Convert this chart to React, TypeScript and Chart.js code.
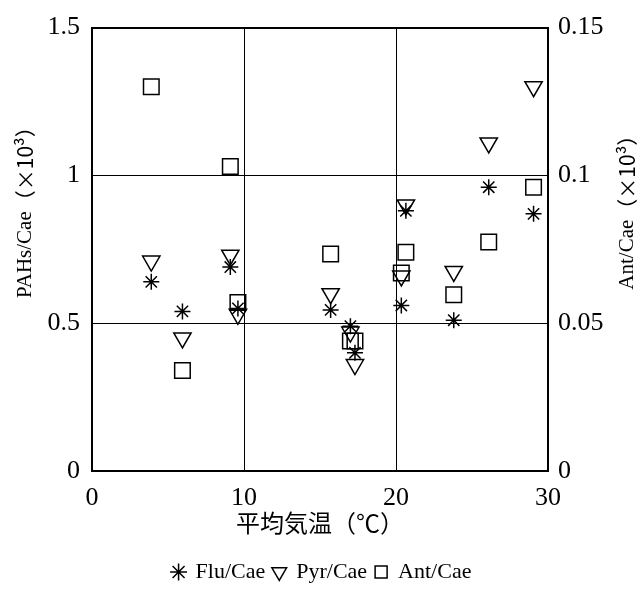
import React, { useEffect, useRef } from 'react';
import { Chart, registerables } from 'chart.js';

Chart.register(...registerables);

// Mean air temperature (°C) for each sampling
const temperature = [3.9, 5.95, 9.1, 9.6, 15.7, 17.0, 17.3, 20.35, 20.65, 23.8, 26.1, 29.05];
// PAHs / Cae ratios (x10^3), left axis
const fluCae = [0.64, 0.54, 0.69, 0.55, 0.545, 0.49, 0.40, 0.56, 0.88, 0.51, 0.96, 0.87];
const pyrCae = [0.71, 0.45, 0.73, 0.53, 0.60, 0.47, 0.36, 0.66, 0.90, 0.675, 1.11, 1.30];
// Ant / Cae ratio (x10^3), right axis
const antCae = [0.130, 0.034, 0.103, 0.057, 0.0734, 0.044, 0.044, 0.067, 0.074, 0.0596, 0.0775, 0.096];

const seriesNames = ['Flu/Cae', 'Pyr/Cae', 'Ant/Cae'];
const xTickLabels = ['0', '10', '20', '30'];
const yLeftTickLabels = ['0', '0.5', '1', '1.5'];
const yRightTickLabels = ['0', '0.05', '0.1', '0.15'];
const xTitle = '平均気温（℃）';
const yLeftTitle = ['PAHs/Cae', '（×10³）'];
const yRightTitle = ['Ant/Cae', '（×10³）'];

const FAMILY = "'Liberation Serif', 'Noto Sans CJK JP', serif";
const SANS = "'Noto Sans CJK JP', 'DejaVu Sans', sans-serif";

const pts = (ys: number[]) => temperature.map((x, i) => ({ x, y: ys[i] }));

const yTitlesPlugin = {
  id: 'yTitles',
  afterDraw(chart: any) {
    const { ctx, chartArea, scales } = chart;
    const cy = chartArea.top + (chartArea.bottom - chartArea.top) * 0.405;
    const f1 = `21px ${FAMILY}`;
    const f2 = `21px ${SANS}`;
    ctx.save();
    ctx.fillStyle = '#000';
    ctx.textAlign = 'left';
    ctx.textBaseline = 'middle';
    const items: [number, string[]][] = [
      [scales.y.left + 25, yLeftTitle],
      [scales.y1.right - 17, yRightTitle],
    ];
    items.forEach(([x, parts]) => {
      ctx.font = f1;
      const w1 = ctx.measureText(parts[0]).width;
      ctx.font = f2;
      const w2 = ctx.measureText(parts[1]).width;
      const start = -(w1 + w2) / 2;
      ctx.save();
      ctx.translate(x, cy);
      ctx.rotate(-Math.PI / 2);
      ctx.font = f1;
      ctx.fillText(parts[0], start, 0);
      ctx.font = f2;
      ctx.fillText(parts[1], start + w1, 0);
      ctx.restore();
    });
    ctx.restore();
  },
};

export default function App() {
  const ref = useRef<HTMLCanvasElement | null>(null);
  useEffect(() => {
    if (!ref.current) return;
    const common = {
      backgroundColor: 'rgba(0,0,0,0)',
      borderColor: '#000',
      borderWidth: 1.5,
      showLine: false,
    };
    const chart = new Chart(ref.current, {
      type: 'scatter',
      data: {
        datasets: [
          { ...common, label: seriesNames[0], data: pts(fluCae), pointStyle: 'star', pointRadius: 8, yAxisID: 'y' },
          { ...common, label: seriesNames[1], data: pts(pyrCae), pointStyle: 'triangle', pointRotation: 180, pointRadius: 10, yAxisID: 'y' },
          { ...common, label: seriesNames[2], data: pts(antCae), pointStyle: 'rect', pointRadius: 11, yAxisID: 'y1' },
        ],
      },
      options: {
        animation: false,
        responsive: true,
        maintainAspectRatio: false,
        events: [],
        layout: { padding: { top: 25, left: 0, right: 0, bottom: 0 } },
        plugins: {
          tooltip: { enabled: false },
          legend: {
            position: 'bottom',
            labels: {
              usePointStyle: true,
              boxWidth: 12,
              boxHeight: 12,
              padding: 8,
              color: '#000',
              font: { size: 22, family: FAMILY },
            },
          },
        },
        scales: {
          x: {
            type: 'linear',
            min: 0,
            max: 30,
            afterFit: (s: any) => { s.height = 82; },
            ticks: {
              stepSize: 10,
              padding: 12,
              color: '#000',
              font: { size: 26, family: FAMILY },
              callback: (_v: any, i: number) => xTickLabels[i],
            },
            grid: {
              color: '#000',
              drawTicks: false,
              lineWidth: (c: any) => (c.tick && (c.tick.value === 0 || c.tick.value === 30) ? 2 : 1),
            },
            border: { display: true, color: '#000', width: 2 },
            title: {
              display: true,
              text: xTitle,
              color: '#000',
              font: { size: 24, family: FAMILY },
              padding: { top: 0, bottom: 13 },
            },
          },
          y: {
            type: 'linear',
            position: 'left',
            min: 0,
            max: 1.5,
            afterFit: (s: any) => { s.width = 92; },
            ticks: {
              stepSize: 0.5,
              padding: 12,
              color: '#000',
              font: { size: 26, family: FAMILY },
              callback: (_v: any, i: number) => yLeftTickLabels[i],
            },
            grid: {
              color: '#000',
              drawTicks: false,
              lineWidth: (c: any) => (c.tick && (c.tick.value === 0 || c.tick.value === 1.5) ? 2 : 1),
            },
            border: { display: true, color: '#000', width: 2 },
          },
          y1: {
            type: 'linear',
            position: 'right',
            min: 0,
            max: 0.15,
            afterFit: (s: any) => { s.width = 96; },
            ticks: {
              stepSize: 0.05,
              padding: 10,
              color: '#000',
              font: { size: 26, family: FAMILY },
              callback: (_v: any, i: number) => yRightTickLabels[i],
            },
            grid: { display: false, drawTicks: false },
            border: { display: true, color: '#000', width: 2 },
          },
        },
      },
      plugins: [yTitlesPlugin],
    } as any);
    return () => chart.destroy();
  }, []);

  return (
    <div style={{ position: 'fixed', left: 0, top: 0, width: 644, height: 593, background: '#fff' }}>
      <canvas ref={ref} />
    </div>
  );
}
